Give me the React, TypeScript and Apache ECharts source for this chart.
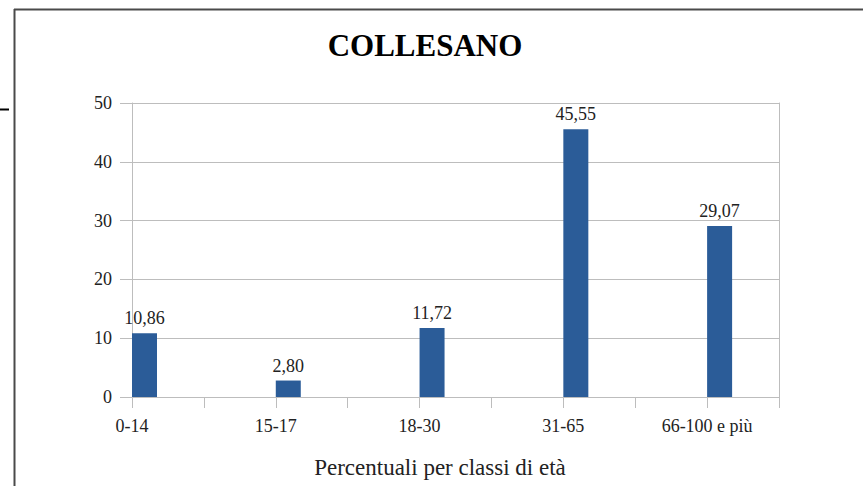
import React, { useEffect, useRef } from "react";
import * as echarts from "echarts";

const categories = ["0-14", "", "15-17", "", "18-30", "", "31-65", "", "66-100 e più", ""];
const values: (number | null)[] = [10.86, null, 2.8, null, 11.72, null, 45.55, null, 29.07, null];
const yTicks = { min: 0, max: 50, interval: 10 };
const titleText = "COLLESANO";
const axisTitle = "Percentuali per classi di età";

const FONT = "Liberation Serif";
const GRID = "#bdbdbd";

export default function App() {
  const ref = useRef<HTMLDivElement>(null);
  useEffect(() => {
    if (!ref.current) return;
    const chart = echarts.init(ref.current, undefined, { renderer: "svg" });
    chart.setOption({
      animation: false,
      backgroundColor: "#ffffff",
      textStyle: { fontFamily: FONT },
      grid: { left: 132, right: 84, top: 103, bottom: 89, containLabel: false },
      xAxis: {
        type: "category",
        data: categories,
        boundaryGap: false,
        axisLine: { show: true, lineStyle: { color: GRID, width: 1 } },
        axisTick: { show: true, interval: 0, length: 11, lineStyle: { color: GRID } },
        axisLabel: {
          interval: 0,
          margin: 20,
          color: "#222",
          fontFamily: FONT,
          fontSize: 18,
        },
        splitLine: { show: false },
      },
      yAxis: [
        {
          type: "value",
          min: yTicks.min,
          max: yTicks.max,
          interval: yTicks.interval,
          axisLine: { show: true, lineStyle: { color: GRID } },
          axisTick: { show: true, length: 12, lineStyle: { color: GRID } },
          axisLabel: { margin: 20, color: "#222", fontFamily: FONT, fontSize: 18 },
          splitLine: { show: true, lineStyle: { color: GRID, width: 1 } },
        },
        {
          type: "value",
          position: "right",
          min: yTicks.min,
          max: yTicks.max,
          interval: yTicks.interval,
          axisLine: { show: true, lineStyle: { color: GRID } },
          axisTick: { show: false },
          axisLabel: { show: false },
          splitLine: { show: false },
        },
      ],
      series: [
        {
          type: "bar",
          name: "spacer",
          data: [],
          barWidth: 25,
          barGap: "0%",
          silent: true,
        },
        {
          type: "bar",
          name: "Percentuale",
          data: values,
          barWidth: 25,
          barGap: "0%",
          itemStyle: { color: "#2b5c98" },
          label: {
            show: true,
            position: "top",
            distance: 6,
            color: "#222",
            fontFamily: FONT,
            fontSize: 18,
            formatter: (p: any) => (p.value == null ? "" : Number(p.value).toFixed(2).replace(".", ",")),
          },
        },
      ],
      graphic: [
        {
          type: "text",
          x: 425,
          y: 45,
          style: {
            text: titleText,
            fontFamily: FONT,
            fontWeight: "bold",
            fontSize: 31,
            fill: "#000",
            textAlign: "center",
            textVerticalAlign: "middle",
          },
        },
        {
          type: "text",
          x: 440,
          y: 467,
          style: {
            text: axisTitle,
            fontFamily: FONT,
            fontSize: 23,
            fill: "#222",
            textAlign: "center",
            textVerticalAlign: "middle",
          },
        },
        {
          type: "line",
          shape: { x1: 14, y1: 9.5, x2: 863, y2: 9.5 },
          style: { stroke: "#4a4a4a", lineWidth: 2 },
        },
        {
          type: "line",
          shape: { x1: 14.5, y1: 9, x2: 14.5, y2: 486 },
          style: { stroke: "#4a4a4a", lineWidth: 2 },
        },
        {
          type: "line",
          shape: { x1: 0, y1: 109.5, x2: 9, y2: 109.5 },
          style: { stroke: "#000", lineWidth: 2 },
        },
      ],
    });
    return () => chart.dispose();
  }, []);
  return (
    <div
      ref={ref}
      style={{ position: "absolute", left: 0, top: 0, width: 863, height: 486 }}
    />
  );
}
